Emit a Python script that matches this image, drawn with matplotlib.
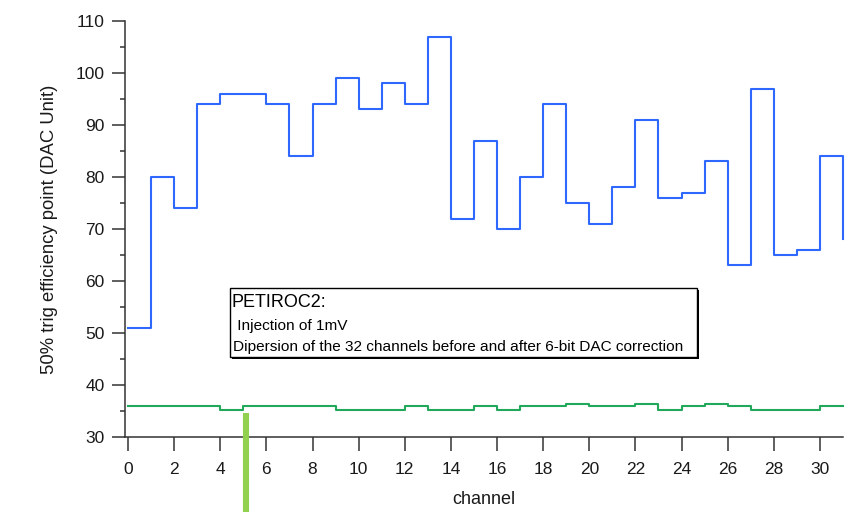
import matplotlib
matplotlib.use("Agg")
import matplotlib.pyplot as plt
from matplotlib.patches import Rectangle

plt.rcParams['font.family'] = ['Liberation Sans', 'DejaVu Sans']

channels = list(range(32))
before_correction = [51, 80, 74, 94, 96, 96, 94, 84, 94, 99, 93, 98, 94, 107, 72, 87,
                     70, 80, 94, 75, 71, 78, 91, 76, 77, 83, 63, 97, 65, 66, 84, 68]
after_correction = [36, 36, 36, 36, 35.1, 36, 36, 36, 36, 35.1, 35.1, 35.1, 36, 35.1, 35.1, 36,
                    35.1, 36, 36, 36.3, 36, 36, 36.3, 35.1, 36, 36.3, 36, 35.1, 35.1, 35.1, 36, 36]
cursor_channel = 5.12

xticks = list(range(0, 31, 2))
yticks = list(range(30, 111, 10))
yminor = list(range(35, 110, 10))

title_line = "PETIROC2:"
info_lines = [" Injection of 1mV",
              "Dipersion of the 32 channels before and after 6-bit DAC correction"]

W, H = 856, 512
fig = plt.figure(figsize=(W / 100, H / 100), dpi=100)
fig.patch.set_facecolor('white')
ax = fig.add_axes([125 / W, 1 - 437 / H, (843 - 125) / W, (437 - 21) / H])

blue = '#2F68FF'
green = '#22A85A'
ax.step(channels, before_correction, where='post', color=blue, lw=1.5, clip_on=False, zorder=3)
ax.step(channels, after_correction, where='post', color=green, lw=1.5, clip_on=False, zorder=3)

# cursor bar
ax.plot([cursor_channel, cursor_channel], [34.7, 10], color='#92D050', lw=4.4,
        solid_capstyle='butt', clip_on=False, zorder=4)

ax.set_xlim(-0.13, 31.0)
ax.set_ylim(30, 110)
ax.set_xticks(xticks)
ax.set_yticks(yticks)
ax.set_yticks(yminor, minor=True)

for s in ['top', 'right']:
    ax.spines[s].set_visible(False)
for s in ['left', 'bottom']:
    ax.spines[s].set_color('#333333')
    ax.spines[s].set_linewidth(1.1)

ax.tick_params(axis='x', which='major', direction='out', length=10, width=1.1,
               color='#333333', labelsize=12.5, pad=8, labelcolor='#1a1a1a')
ax.tick_params(axis='y', which='major', direction='out', length=9.5, width=1.1,
               color='#333333', labelsize=12.5, pad=5, labelcolor='#1a1a1a')
ax.tick_params(axis='y', which='minor', direction='out', length=3.6, width=1.1,
               color='#333333')

ax.set_xlabel('channel', fontsize=13, color='#1a1a1a', labelpad=10)
ax.set_ylabel('50% trig efficiency point (DAC Unit)', fontsize=13.3, color='#1a1a1a', labelpad=13)

# annotation box (pixel coords -> figure fraction)
def fx(x):
    return x / W

def fy(y):
    return 1 - y / H

bx0, by0, bx1, by1 = 230, 288, 697, 357
fig.patches.append(Rectangle((fx(bx0 + 2), fy(by1 + 2)), fx(bx1 - bx0), (by1 - by0) / H,
                             transform=fig.transFigure, facecolor='black', edgecolor='black',
                             lw=0, zorder=5))
fig.patches.append(Rectangle((fx(bx0), fy(by1)), fx(bx1 - bx0), (by1 - by0) / H,
                             transform=fig.transFigure, facecolor='white', edgecolor='black',
                             lw=1.0, zorder=6))
fig.text(fx(232), fy(307), title_line, fontsize=13, color='black', va='baseline',
         ha='left', zorder=7)
fig.text(fx(233), fy(330), info_lines[0], fontsize=11.1, color='black', va='baseline',
         ha='left', zorder=7)
fig.text(fx(233), fy(350.5), info_lines[1], fontsize=11.1, color='black', va='baseline',
         ha='left', zorder=7)

fig.savefig('out.png', dpi=100)
